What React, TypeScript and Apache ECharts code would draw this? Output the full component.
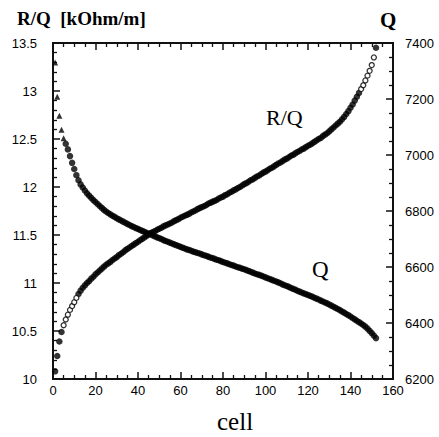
import { useEffect, useRef } from "react";
import * as echarts from "echarts";

// R/Q [kOhm/m] per cell (cells 1..152), left axis
const rqValues = [
  10.08, 10.24, 10.39, 10.49, 10.56, 10.62, 10.67, 10.72, 10.76, 10.80,
  10.845, 10.885, 10.92, 10.95, 10.975, 11.00, 11.02, 11.045, 11.065, 11.09,
  11.11, 11.13, 11.15, 11.17, 11.19, 11.205, 11.22, 11.24, 11.255, 11.27,
  11.29, 11.305, 11.32, 11.34, 11.355, 11.37, 11.385, 11.40, 11.415, 11.43,
  11.445, 11.46, 11.475, 11.49, 11.505, 11.52, 11.53, 11.54, 11.555, 11.565,
  11.575, 11.59, 11.60, 11.61, 11.62, 11.63, 11.645, 11.655, 11.665, 11.68,
  11.69, 11.70, 11.71, 11.72, 11.735, 11.745, 11.755, 11.77, 11.78, 11.79,
  11.80, 11.81, 11.825, 11.835, 11.845, 11.855, 11.865, 11.88, 11.89, 11.90,
  11.915, 11.925, 11.94, 11.95, 11.965, 11.975, 11.99, 12.00, 12.015, 12.03,
  12.04, 12.055, 12.07, 12.08, 12.095, 12.11, 12.12, 12.135, 12.15, 12.16,
  12.175, 12.19, 12.20, 12.215, 12.23, 12.245, 12.255, 12.27, 12.285, 12.295,
  12.31, 12.325, 12.335, 12.35, 12.365, 12.375, 12.39, 12.40, 12.415, 12.43,
  12.44, 12.455, 12.47, 12.485, 12.50, 12.51, 12.53, 12.545, 12.56, 12.58,
  12.60, 12.62, 12.64, 12.66, 12.68, 12.705, 12.73, 12.76, 12.79, 12.825,
  12.86, 12.90, 12.94, 12.98, 13.02, 13.06, 13.11, 13.16, 13.21, 13.27,
  13.35, 13.45,
];

// Q per cell (cells 1..152), right axis
const qValues = [
  7330, 7208, 7140, 7090, 7060, 7040, 7020, 6996, 6972, 6950,
  6928, 6910, 6895, 6884, 6873, 6863, 6855, 6847, 6839, 6832,
  6825, 6818, 6811, 6804, 6798, 6793, 6788, 6783, 6779, 6774,
  6770, 6766, 6762, 6758, 6754, 6750, 6746, 6743, 6739, 6736,
  6732, 6729, 6726, 6722, 6719, 6716, 6713, 6709, 6706, 6703,
  6700, 6696, 6693, 6690, 6687, 6684, 6681, 6678, 6675, 6672,
  6669, 6666, 6663, 6661, 6658, 6655, 6653, 6650, 6648, 6645,
  6642, 6640, 6637, 6634, 6632, 6629, 6626, 6624, 6621, 6618,
  6615, 6613, 6610, 6607, 6605, 6602, 6599, 6597, 6594, 6592,
  6589, 6586, 6583, 6580, 6577, 6574, 6572, 6569, 6566, 6563,
  6560, 6557, 6554, 6551, 6548, 6545, 6542, 6538, 6535, 6532,
  6529, 6525, 6522, 6519, 6515, 6512, 6509, 6506, 6503, 6500,
  6497, 6494, 6490, 6487, 6484, 6480, 6477, 6473, 6470, 6466,
  6462, 6458, 6454, 6450, 6446, 6441, 6437, 6432, 6428, 6423,
  6418, 6413, 6408, 6403, 6398, 6393, 6387, 6380, 6372, 6364,
  6355, 6346,
];

const cells = rqValues.map((_, i) => i + 1);

const xTitle = "cell";
const leftTitle = "R/Q  [kOhm/m]";
const rightTitle = "Q";
const rqLabel = "R/Q";
const qLabel = "Q";

const FONT = "Liberation Serif";
const INK = "#111";

export default function App() {
  const ref = useRef<HTMLDivElement>(null);
  useEffect(() => {
    if (!ref.current) return;
    const chart = echarts.init(ref.current, null, { renderer: "svg" });
    const isOpenRQ = (c: number) => (c >= 5 && c <= 11) || (c >= 145 && c <= 151);
    const mkAxisLine = () => ({ show: true, onZero: false, lineStyle: { color: INK, width: 2 } });
    const mkTick = () => ({ show: true, inside: true, length: 7, lineStyle: { color: INK, width: 1.5 } });
    const mkMinor = (n: number) => ({ show: true, splitNumber: n, length: 4, lineStyle: { color: INK, width: 1.3 } });
    const mkTitle = (text: string, left: number, top: number, size: number, weight: string) => ({
      text, left, top, padding: 0,
      textStyle: { color: "#000", fontFamily: FONT, fontSize: size, fontWeight: weight },
    });
    const rqFilled = cells.filter((c) => !isOpenRQ(c)).map((c) => [c, rqValues[c - 1]]);
    const rqOpen = cells.filter((c) => isOpenRQ(c)).map((c) => [c, rqValues[c - 1]]);
    const qTri = cells.filter((c) => c <= 5).map((c) => [c, qValues[c - 1]]);
    const qDot = cells.filter((c) => c > 5).map((c) => [c, qValues[c - 1]]);
    chart.setOption({
      animation: false,
      backgroundColor: "#fff",
      title: [
        mkTitle(leftTitle, 17, 9, 19, "bold"),
        mkTitle(rightTitle, 380, 9, 21, "bold"),
        mkTitle(xTitle, 217, 409, 25, "normal"),
        mkTitle(rqLabel, 266, 106, 22, "normal"),
        mkTitle(qLabel, 312, 258, 23, "normal"),
      ],
      grid: { left: 53, right: 46, top: 43, bottom: 58, show: true, borderColor: INK, borderWidth: 2, backgroundColor: "transparent" },
      xAxis: [
        {
          type: "value", min: 0, max: 160, interval: 20, position: "bottom",
          axisLine: mkAxisLine(), axisTick: mkTick(), minorTick: mkMinor(4),
          splitLine: { show: false },
          axisLabel: { color: "#000", fontSize: 13, margin: 5 },
        },
        {
          type: "value", min: 0, max: 160, interval: 20, position: "top",
          axisLine: mkAxisLine(), axisTick: mkTick(), minorTick: mkMinor(4),
          splitLine: { show: false },
          axisLabel: { show: false },
        },
      ],
      yAxis: [
        {
          type: "value", min: 10, max: 13.5, interval: 0.5, position: "left",
          axisLine: mkAxisLine(), axisTick: mkTick(), minorTick: mkMinor(5),
          splitLine: { show: false },
          axisLabel: { color: "#000", fontSize: 13, margin: 16, formatter: (v: number) => String(v) },
        },
        {
          type: "value", min: 6200, max: 7400, interval: 200, position: "right",
          axisLine: mkAxisLine(), axisTick: mkTick(), minorTick: mkMinor(4),
          splitLine: { show: false },
          axisLabel: { color: "#000", fontSize: 13, margin: 12, formatter: (v: number) => String(v) },
        },
      ],
      series: [
        {
          type: "scatter", xAxisIndex: 0, yAxisIndex: 0,
          symbol: "circle", symbolSize: 6.5,
          itemStyle: { color: "#000" },
          data: rqFilled,
        },
        {
          type: "scatter", xAxisIndex: 0, yAxisIndex: 0,
          symbol: "circle", symbolSize: 5,
          itemStyle: { color: "#fff", borderColor: "#000", borderWidth: 1.3 },
          data: rqOpen,
        },
        {
          type: "scatter", xAxisIndex: 0, yAxisIndex: 1,
          symbol: "triangle", symbolSize: 6,
          itemStyle: { color: "#000" },
          data: qTri,
        },
        {
          type: "scatter", xAxisIndex: 0, yAxisIndex: 1,
          symbol: "circle", symbolSize: 6.5,
          itemStyle: { color: "#000" },
          data: qDot,
        },
      ],
    });
    return () => chart.dispose();
  }, []);
  return <div ref={ref} style={{ position: "fixed", left: 0, top: 0, width: 439, height: 437 }} />;
}
